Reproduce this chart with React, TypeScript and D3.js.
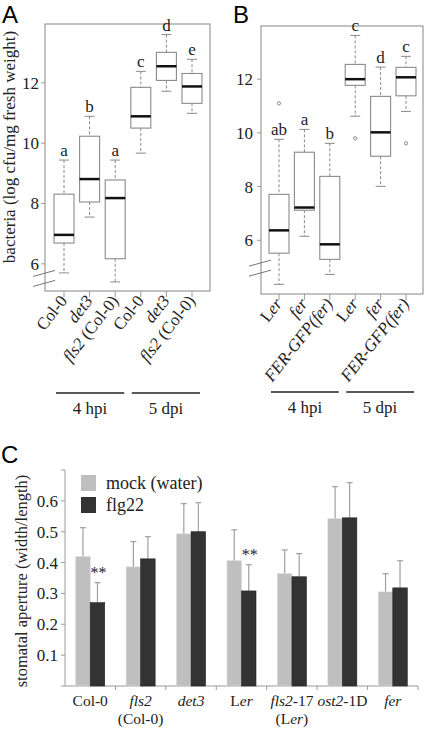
import React from "react";
import * as d3 from "d3";

// Panel A data
const aLabels = ["Col-0", "det3", "fls2 (Col-0)", "Col-0", "det3", "fls2 (Col-0)"];
const aLow = [5.7, 7.55, 5.4, 9.67, 11.72, 10.99];
const aQ1 = [6.69, 8.05, 6.17, 10.5, 12.08, 11.32];
const aMed = [6.96, 8.81, 8.18, 10.89, 12.55, 11.88];
const aQ3 = [8.31, 10.23, 8.78, 11.85, 13.01, 12.31];
const aHigh = [9.44, 10.89, 9.44, 12.38, 13.6, 12.78];
const aOut: number[][] = [[], [], [], [], [], []];
const aLetters = ["a", "b", "a", "c", "d", "e"];
const aTicks = [6, 8, 10, 12];

// Panel B data
const bLabels = ["Ler", "fer", "FER-GFP(fer)", "Ler", "fer", "FER-GFP(fer)"];
const bLow = [4.36, 6.15, 4.73, 10.62, 8.01, 10.8];
const bQ1 = [5.52, 7.12, 5.29, 11.77, 9.13, 11.38];
const bMed = [6.37, 7.22, 5.85, 12.0, 10.02, 12.07];
const bQ3 = [7.71, 9.28, 8.38, 12.55, 11.36, 12.44];
const bHigh = [9.76, 10.13, 9.61, 13.63, 12.45, 12.85];
const bOut: number[][] = [[11.1], [], [], [9.8], [], [9.61]];
const bLetters = ["ab", "a", "b", "c", "d", "c"];
const bTicks = [6, 8, 10, 12];

const groups = ["4 hpi", "5 dpi"];

// Panel C data
const cCats = ["Col-0", "fls2", "det3", "Ler", "fls2-17", "ost2-1D", "fer"];
const cSeries = ["mock (water)", "flg22"];
const cMock = [0.419, 0.386, 0.493, 0.406, 0.364, 0.542, 0.305];
const cMockErr = [0.094, 0.082, 0.098, 0.1, 0.077, 0.104, 0.059];
const cFlg = [0.27, 0.412, 0.5, 0.308, 0.354, 0.545, 0.318];
const cFlgErr = [0.065, 0.072, 0.094, 0.085, 0.075, 0.114, 0.088];
const cSig = [true, false, false, true, false, false, false];
const cTicks = [0.1, 0.2, 0.3, 0.4, 0.5, 0.6];
const cMinor = [0, 0.7];

const serif = "Liberation Serif";
const sans = "Liberation Sans";
const frameCol = "#9a9a9a";
const boxCol = "#8a8a8a";

function labelNode(s: string) {
  if (s === "Ler") return [{ t: "L", i: false }, { t: "er", i: true }];
  if (s === "fls2 (Col-0)") return [{ t: "fls2", i: true }, { t: " (Col-0)", i: false }];
  if (s === "det3" || s === "fer" || s === "fls2") return [{ t: s, i: true }];
  if (s === "FER-GFP(fer)") return [{ t: "FER-GFP(fer)", i: true }];
  if (s === "fls2-17") return [{ t: "fls2", i: true }, { t: "-17", i: false }];
  if (s === "ost2-1D") return [{ t: "ost2", i: true }, { t: "-1D", i: false }];
  return [{ t: s, i: false }];
}

function Spans({ s }: { s: string }) {
  return (
    <>
      {labelNode(s).map((p, i) => (
        <tspan key={i} fontStyle={p.i ? "italic" : "normal"}>
          {p.t}
        </tspan>
      ))}
    </>
  );
}

function BoxPanel(props: {
  letter: string;
  letterX: number;
  left: number;
  right: number;
  top: number;
  bottom: number;
  domain: [number, number];
  firstX: number;
  lastX: number;
  labels: string[];
  low: number[];
  q1: number[];
  med: number[];
  q3: number[];
  high: number[];
  out: number[][];
  letters: string[];
  ticks: number[];
  tickLabelX: number;
  groupY: number;
}) {
  const p = props;
  const y = d3.scaleLinear().domain(p.domain).range([p.bottom, p.top]);
  const x = d3
    .scalePoint<number>()
    .domain(d3.range(p.labels.length))
    .range([p.firstX, p.lastX]);
  const bw = 20;
  const cap = 10;
  const breakY = y(p.ticks[0]) + (p.bottom - y(p.ticks[0])) * 0.5;
  const g1 = [x(0)! - 8, x(2)! + 9];
  const g2 = [x(3)! - 9, x(5)! + 8];
  return (
    <g>
      <text x={p.letterX} y={23} fontFamily={sans} fontSize={24}>
        {p.letter}
      </text>
      <rect
        x={p.left}
        y={p.top}
        width={p.right - p.left}
        height={p.bottom - p.top}
        fill="none"
        stroke={frameCol}
        strokeWidth={1.2}
      />
      {p.ticks.map((t) => (
        <g key={t}>
          <line x1={p.left - 4} x2={p.left} y1={y(t)} y2={y(t)} stroke={frameCol} />
          <text
            x={p.tickLabelX}
            y={y(t)}
            dy="0.35em"
            textAnchor="end"
            fontFamily={serif}
            fontSize={17}
            fill="#222"
          >
            {t}
          </text>
        </g>
      ))}
      {[-4, 6].map((o) => (
        <line
          key={o}
          x1={p.left - 12}
          x2={p.left + 10}
          y1={breakY + o + 3}
          y2={breakY + o - 3}
          stroke="#777"
          strokeWidth={1}
        />
      ))}
      {p.labels.map((lab, i) => {
        const cx = x(i)!;
        return (
          <g key={i}>
            <line
              x1={cx}
              x2={cx}
              y1={y(p.high[i])}
              y2={y(p.q3[i])}
              stroke={boxCol}
              strokeDasharray="3,2"
            />
            <line
              x1={cx}
              x2={cx}
              y1={y(p.q1[i])}
              y2={y(p.low[i])}
              stroke={boxCol}
              strokeDasharray="3,2"
            />
            <line
              x1={cx - cap / 2}
              x2={cx + cap / 2}
              y1={y(p.high[i])}
              y2={y(p.high[i])}
              stroke={boxCol}
            />
            <line
              x1={cx - cap / 2}
              x2={cx + cap / 2}
              y1={y(p.low[i])}
              y2={y(p.low[i])}
              stroke={boxCol}
            />
            <rect
              x={cx - bw / 2}
              y={y(p.q3[i])}
              width={bw}
              height={y(p.q1[i]) - y(p.q3[i])}
              fill="white"
              stroke={boxCol}
              strokeWidth={1.1}
            />
            <line
              x1={cx - bw / 2}
              x2={cx + bw / 2}
              y1={y(p.med[i])}
              y2={y(p.med[i])}
              stroke="#111"
              strokeWidth={2.5}
            />
            {p.out[i].map((o, j) => (
              <circle key={j} cx={cx} cy={y(o)} r={1.6} fill="none" stroke={boxCol} />
            ))}
            <text
              x={cx}
              y={y(p.high[i]) - 4}
              textAnchor="middle"
              fontFamily={serif}
              fontSize={17}
              fill="#222"
            >
              {p.letters[i]}
            </text>
            <line x1={cx} x2={cx} y1={p.bottom} y2={p.bottom + 6} stroke={frameCol} />
            <text
              transform={`translate(${cx + 4},${p.bottom + 10}) rotate(-52)`}
              textAnchor="end"
              fontFamily={serif}
              fontSize={17}
              fill="#222"
            >
              <Spans s={lab} />
            </text>
          </g>
        );
      })}
      {[g1, g2].map((g, i) => (
        <g key={i}>
          <line x1={g[0]} x2={g[1]} y1={p.groupY} y2={p.groupY} stroke="#222" strokeWidth={1.5} />
          <text
            x={(g[0] + g[1]) / 2}
            y={p.groupY + 21}
            textAnchor="middle"
            fontFamily={serif}
            fontSize={17}
            fill="#222"
          >
            {groups[i]}
          </text>
        </g>
      ))}
    </g>
  );
}

function BarPanel() {
  const left = 65;
  const right = 418;
  const top = 470;
  const bottom = 686;
  const y = d3.scaleLinear().domain([0, 0.7]).range([bottom, top]);
  const x = d3.scaleBand<string>().domain(cCats).range([left, right]).padding(0);
  const xi = d3
    .scaleBand<string>()
    .domain(cSeries)
    .range([0, x.bandwidth()])
    .paddingInner(0)
    .paddingOuter(0.74);
  const vals = [cMock, cFlg];
  const errs = [cMockErr, cFlgErr];
  const cols = ["#bfbfbf", "#333333"];
  const sub: Record<string, string> = { fls2: "(Col-0)", "fls2-17": "(Ler)" };
  return (
    <g>
      <text x={1} y={463} fontFamily={sans} fontSize={24}>
        C
      </text>
      <line x1={left} x2={left} y1={top} y2={bottom} stroke={frameCol} />
      <line x1={left} x2={right} y1={bottom} y2={bottom} stroke={frameCol} />
      {[...cMinor, ...cTicks].map((t) => (
        <line key={t} x1={left - 4} x2={left} y1={y(t)} y2={y(t)} stroke={frameCol} />
      ))}
      {cTicks.map((t) => (
        <text
          key={t}
          x={left - 7}
          y={y(t)}
          dy="0.35em"
          textAnchor="end"
          fontFamily={serif}
          fontSize={17}
          fill="#222"
        >
          {t.toFixed(1)}
        </text>
      ))}
      <text
        transform={`translate(27,${(top + bottom) / 2 + 3}) rotate(-90)`}
        textAnchor="middle"
        fontFamily={serif}
        fontSize={16.5}
        fill="#222"
      >
        stomatal aperture (width/length)
      </text>
      {cCats.map((c, i) => (
        <g key={c}>
          <line
            x1={x(c)! + x.bandwidth()}
            x2={x(c)! + x.bandwidth()}
            y1={bottom}
            y2={bottom + 4}
            stroke={frameCol}
          />
          {cSeries.map((s, k) => {
            const bx = x(c)! + xi(s)!;
            const v = vals[k][i];
            const e = errs[k][i];
            return (
              <g key={s}>
                <line
                  x1={bx + xi.bandwidth() / 2}
                  x2={bx + xi.bandwidth() / 2}
                  y1={y(v)}
                  y2={y(v + e)}
                  stroke="#a0a0a0"
                  strokeWidth={1.2}
                />
                <line
                  x1={bx + xi.bandwidth() / 2 - 3}
                  x2={bx + xi.bandwidth() / 2 + 3}
                  y1={y(v + e)}
                  y2={y(v + e)}
                  stroke="#a0a0a0"
                  strokeWidth={1.2}
                />
                <rect
                  x={bx}
                  y={y(v)}
                  width={xi.bandwidth()}
                  height={bottom - y(v)}
                  fill={cols[k]}
                  stroke={k === 0 ? "#d8d8d8" : "#222"}
                  strokeWidth={0.6}
                />
              </g>
            );
          })}
          {cSig[i] && (
            <text
              x={x(c)! + xi("flg22")! + xi.bandwidth() / 2 + 1}
              y={y(cFlg[i] + cFlgErr[i]) - 5}
              textAnchor="middle"
              fontFamily={serif}
              fontSize={16}
              fill="#222"
            >
              **
            </text>
          )}
          <text
            x={x(c)! + x.bandwidth() / 2}
            y={706}
            textAnchor="middle"
            fontFamily={serif}
            fontSize={15.5}
            fill="#222"
          >
            <Spans s={c} />
          </text>
          {sub[c] && (
            <text
              x={x(c)! + x.bandwidth() / 2}
              y={724}
              textAnchor="middle"
              fontFamily={serif}
              fontSize={15.5}
              fill="#222"
            >
              {sub[c] === "(Ler)" ? (
                <>
                  <tspan>(L</tspan>
                  <tspan fontStyle="italic">er</tspan>
                  <tspan>)</tspan>
                </>
              ) : (
                sub[c]
              )}
            </text>
          )}
        </g>
      ))}
      {cSeries.map((s, k) => (
        <g key={s}>
          <rect x={81} y={475 + k * 22} width={15} height={16} fill={cols[k]} />
          <text x={106} y={483 + k * 22} dy="0.35em" fontFamily={serif} fontSize={18} fill="#222">
            {s}
          </text>
        </g>
      ))}
    </g>
  );
}

export default function App() {
  return (
    <svg
      width={425}
      height={729}
      style={{ position: "absolute", left: 0, top: 0, background: "white" }}
    >
      <rect width={425} height={729} fill="white" />
      <text
        transform={`translate(15,147) rotate(-90)`}
        textAnchor="middle"
        fontFamily={serif}
        fontSize={17}
        fill="#222"
      >
        bacteria (log cfu/mg fresh weight)
      </text>
      <BoxPanel
        letter="A"
        letterX={2}
        left={45}
        right={210}
        top={24}
        bottom={291}
        domain={[5.1, 13.95]}
        firstX={64}
        lastX={192}
        labels={aLabels}
        low={aLow}
        q1={aQ1}
        med={aMed}
        q3={aQ3}
        high={aHigh}
        out={aOut}
        letters={aLetters}
        ticks={aTicks}
        tickLabelX={39}
        groupY={393}
      />
      <BoxPanel
        letter="B"
        letterX={233}
        left={261}
        right={423}
        top={26}
        bottom={294}
        domain={[4.0, 13.98]}
        firstX={279}
        lastX={406}
        labels={bLabels}
        low={bLow}
        q1={bQ1}
        med={bMed}
        q3={bQ3}
        high={bHigh}
        out={bOut}
        letters={bLetters}
        ticks={bTicks}
        tickLabelX={253}
        groupY={392}
      />
      <BarPanel />
    </svg>
  );
}
